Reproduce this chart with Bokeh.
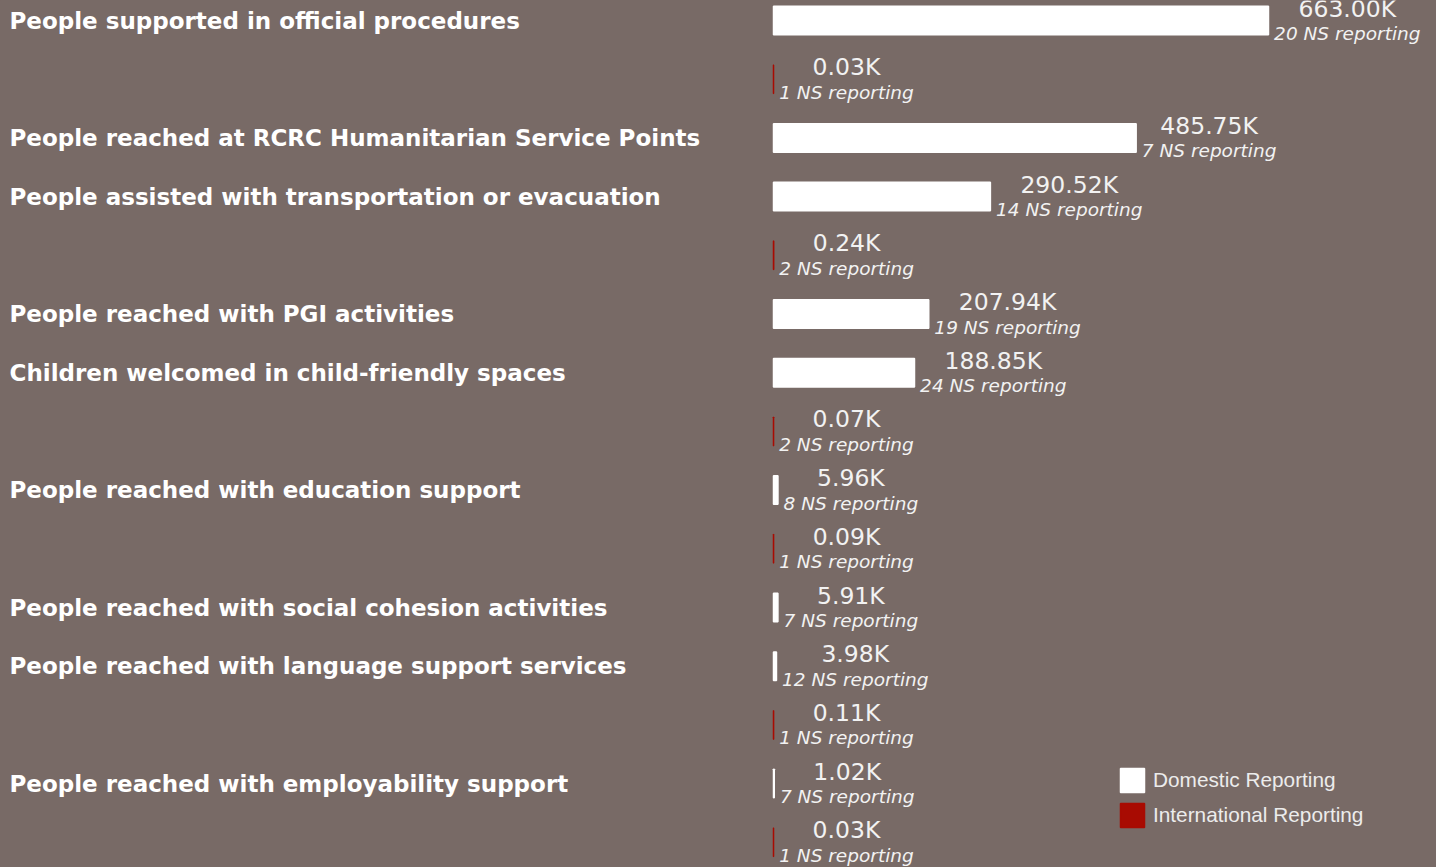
from bokeh.plotting import figure
from bokeh.models import Range1d, ColumnDataSource, Legend, LegendItem
from bokeh.core.properties import value
from bokeh.embed import file_html
from bokeh.resources import INLINE

# ---------------- data ----------------
categories = [
    "People supported in official procedures",
    "People reached at RCRC Humanitarian Service Points",
    "People assisted with transportation or evacuation",
    "People reached with PGI activities",
    "Children welcomed in child-friendly spaces",
    "People reached with education support",
    "People reached with social cohesion activities",
    "People reached with language support services",
    "People reached with employability support",
]
domestic_k = [663.00, 485.75, 290.52, 207.94, 188.85, 5.96, 5.91, 3.98, 1.02]
domestic_ns = [20, 7, 14, 19, 24, 8, 7, 12, 7]
international_k = [0.03, None, 0.24, None, 0.07, 0.09, None, 0.11, 0.03]
international_ns = [1, None, 2, None, 2, 1, None, 1, 1]
series_names = ["Domestic Reporting", "International Reporting"]

# ---------------- style / layout ----------------
BG = "#786a66"
RED = "#a80b02"
W, H = 1436, 867
SLOT = 58.7      # px per row
PXK = 0.7466     # px per thousand
X0 = 773         # px position of zero
Y0 = 20          # px centre of first row
BAR_H = 28.5 / SLOT
IT_SIZE = 18.5


def label_offset(n):
    # centre of the italic line, measured from the bar end (font-metric estimate)
    return 6 + 0.5 * IT_SIZE * (6.6 + 0.636 * len(str(n)))


dom = dict(y=[], v=[], cat=[], num=[], ns=[], off=[])
intl = dict(y=[], v=[], num=[], ns=[], off=[])
row = 0
for i, c in enumerate(categories):
    dom["y"].append(row)
    dom["v"].append(domestic_k[i])
    dom["cat"].append(c)
    dom["num"].append(f"{domestic_k[i]:.2f}K")
    dom["ns"].append(f"{domestic_ns[i]} NS reporting")
    dom["off"].append(label_offset(domestic_ns[i]))
    row += 1
    if international_k[i] is not None:
        intl["y"].append(row)
        intl["v"].append(international_k[i])
        intl["num"].append(f"{international_k[i]:.2f}K")
        intl["ns"].append(f"{international_ns[i]} NS reporting")
        intl["off"].append(label_offset(international_ns[i]))
        row += 1

dom_src = ColumnDataSource(dom)
int_src = ColumnDataSource(intl)

p = figure(
    width=W, height=H,
    x_range=Range1d(-X0 / PXK, (W - X0) / PXK),
    y_range=Range1d((H - Y0) / SLOT, -Y0 / SLOT),
    output_backend="svg", toolbar_location=None,
    min_border=0, x_axis_location=None, y_axis_location=None,
    background_fill_color=BG, border_fill_color=BG, outline_line_color=None,
)
p.grid.visible = False

dom_bar = p.hbar(y="y", left=0, right="v", height=BAR_H, source=dom_src,
                 fill_color="#ffffff", line_color="#ffffff", line_width=1.5)
int_bar = p.hbar(y="y", left=0, right="v", height=BAR_H, source=int_src,
                 fill_color=RED, line_color=RED, line_width=1.5)

# category labels
p.text(x=p.x_range.start, y="y", text="cat", source=dom_src, x_offset=9,
       text_align="left", text_baseline="middle",
       text_font=value("DejaVu Sans"), text_font_style="bold",
       text_font_size="23px", text_color="#ffffff")

for src in (dom_src, int_src):
    p.text(x="v", y="y", text="num", source=src, x_offset="off", y_offset=-12,
           text_align="center", text_baseline="middle",
           text_font=value("DejaVu Sans"), text_font_size="23.5px",
           text_color="#f2f2f2")
    p.text(x="v", y="y", text="ns", source=src, x_offset="off", y_offset=13,
           text_align="center", text_baseline="middle",
           text_font=value("DejaVu Sans"), text_font_style="italic",
           text_font_size=f"{IT_SIZE}px", text_color="#f2f2f2")

legend = Legend(
    items=[LegendItem(label=series_names[0], renderers=[dom_bar]),
           LegendItem(label=series_names[1], renderers=[int_bar])],
    location=(1117, 37), orientation="vertical",
    glyph_width=30, glyph_height=30, label_height=30, spacing=5,
    padding=0, margin=0, label_standoff=6,
    label_text_font="Liberation Sans", label_text_font_size="20.8px",
    label_text_color="#ececec",
    background_fill_alpha=0, border_line_alpha=0,
)
p.add_layout(legend)

html = file_html(p, INLINE, title="Reporting")
html = html.replace("</head>", f"<style>body{{background-color:{BG};}}</style></head>", 1)
open("out.html", "w").write(html)
